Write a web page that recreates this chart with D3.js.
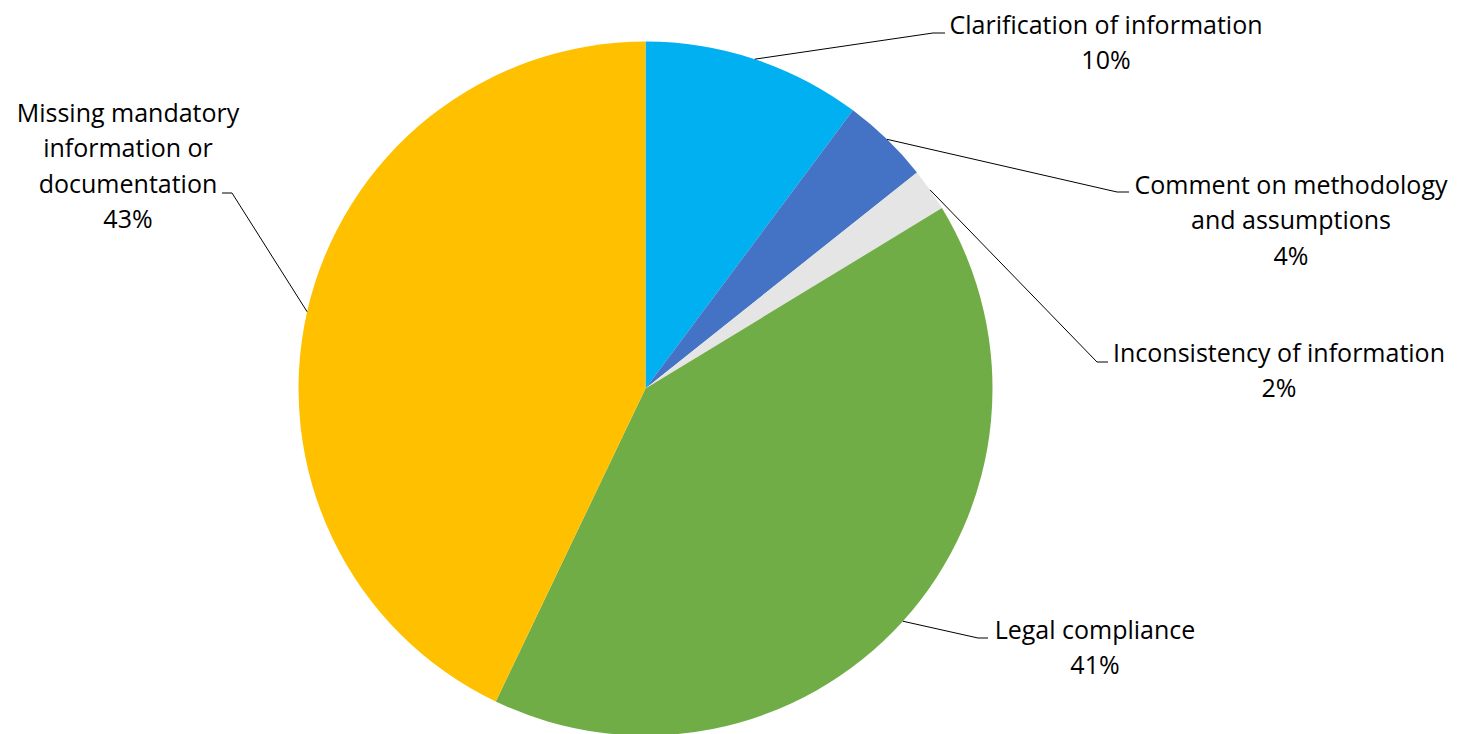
<!DOCTYPE html>
<html><head><meta charset="utf-8">
<script src="https://cdn.jsdelivr.net/npm/d3@7"></script>
<style>
html,body{margin:0;padding:0;background:#fff;}
svg text{font-family:"Open Sans",sans-serif;font-size:25px;fill:#000;}
</style></head>
<body><svg id="c" width="1462" height="734"></svg>
<script>
const categories = ["Clarification of information","Comment on methodology and assumptions","Inconsistency of information","Legal compliance","Missing mandatory information or documentation"];
const values = [10.2, 4.1, 2.0, 40.8, 42.9];
const colors = ["#00B0F0","#4472C4","#E5E5E5","#70AD47","#FFC000"];
const labelLines = [
  ["Clarification of information"],
  ["Comment on methodology","and assumptions"],
  ["Inconsistency of information"],
  ["Legal compliance"],
  ["Missing mandatory","information or","documentation"]
];

const svg = d3.select("#c");
const cx = 645.5, cy = 388.5, R = 347;
const g = svg.append("g").attr("transform", `translate(${cx},${cy})`);

const pie = d3.pie().sort(null).value(d => d);
const arcs = pie(values);
const arc = d3.arc().innerRadius(0).outerRadius(R);

g.selectAll("path.slice").data(arcs).join("path")
  .attr("class","slice")
  .attr("d", arc)
  .attr("fill", (d,i) => colors[i]);

// label layout (elbow point, horizontal end, label centre x, first baseline)
const layout = [
  {elbow:[933,33], end:[945,33], tx:1106, ty:34},
  {elbow:[1117,192], end:[1129,192], tx:1291, ty:194},
  {elbow:[1097,362], end:[1108,362], tx:1279, ty:362},
  {elbow:[978,638], end:[988,638], tx:1095, ty:639},
  {elbow:[232,193], end:[222,193], tx:128, ty:122}
];
const lineH = 35.3;

arcs.forEach((a,i) => {
  const mid = (a.startAngle + a.endAngle)/2;
  const sx = cx + R*Math.sin(mid), sy = cy - R*Math.cos(mid);
  const L = layout[i];
  svg.append("polyline")
    .attr("points", [[sx,sy], L.elbow, L.end].map(p=>p.join(",")).join(" "))
    .attr("fill","none").attr("stroke","#000").attr("stroke-width",1);
  const lines = labelLines[i].concat([Math.round(values[i]) + "%"]);
  const t = svg.append("text").attr("text-anchor","middle");
  lines.forEach((s,k) => {
    t.append("tspan").attr("x", L.tx).attr("y", L.ty + k*lineH).text(s);
  });
});
</script></body></html>
